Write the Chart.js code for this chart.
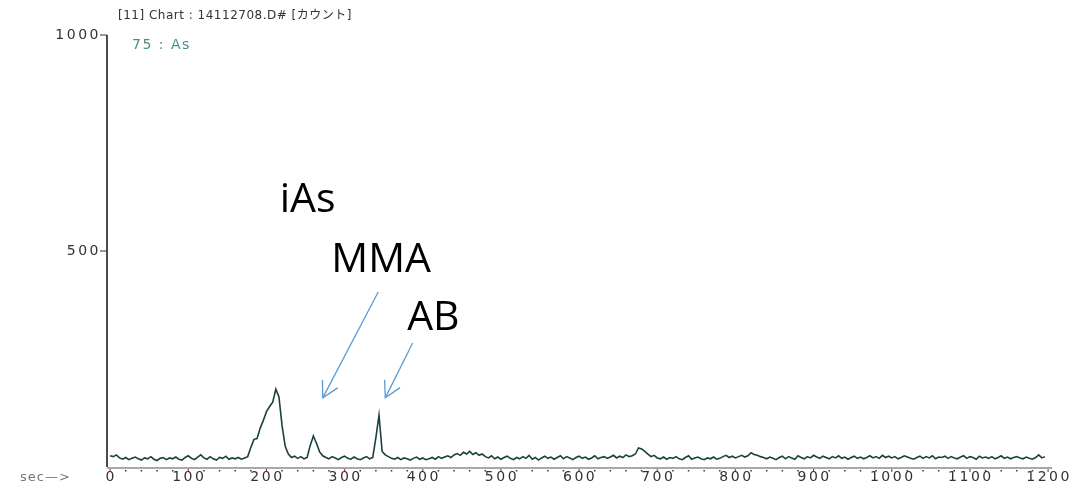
<!DOCTYPE html>
<html><head><meta charset="utf-8">
<script src="https://cdn.jsdelivr.net/npm/chart.js@4.4.0/dist/chart.umd.min.js"></script>
<style>html,body{margin:0;padding:0;background:#fff;}canvas{display:block}</style>
</head><body>
<canvas id="c" width="1074" height="486"></canvas>
<script>
// ---- data ----
const stepSec = 4; // sampling interval (s)
const counts = [
 26,24,28,21,18,22,17,20,23,19,
 16,21,19,24,18,15,20,22,17,21,
 19,23,18,16,22,26,20,17,23,28,
 21,18,24,19,16,22,20,25,18,21,
 19,22,18,21,24,45,64,66,90,108,
 128,140,150,180,162,95,48,30,22,25,
 20,24,19,22,50,72,55,35,26,22,
 19,24,21,17,22,25,20,18,23,19,
 17,21,24,19,22,68,120,36,28,24,
 20,18,22,17,21,19,16,20,23,18,
 21,17,19,22,18,24,20,23,26,22,
 28,31,27,34,30,36,29,33,27,30,
 24,21,26,19,23,18,22,25,20,17,
 22,19,24,20,27,18,22,16,21,25,
 20,23,18,22,26,19,24,21,17,22,
 25,20,23,18,21,26,19,22,24,20,
 23,27,21,25,22,28,24,26,30,44,
 42,36,30,24,27,21,19,23,18,22,
 20,24,19,17,22,26,18,21,23,19,
 17,21,19,23,18,20,24,27,22,25,
 21,24,27,23,26,33,29,27,24,22,
 19,23,20,17,22,25,19,24,21,18,
 26,22,19,24,21,27,23,20,25,22,
 19,24,21,26,20,23,18,22,25,20,
 23,19,22,26,21,24,20,27,22,25,
 21,24,19,22,26,23,20,18,22,25,
 20,24,21,26,19,23,22,25,20,24,
 21,19,23,26,20,24,22,18,25,21,
 23,20,24,19,22,26,20,23,19,22,
 24,21,19,23,20,18,22,28,21,24
];
const xTicks = [0,100,200,300,400,500,600,700,800,900,1000,1100,1200];
const yTicks = [500,1000];
const titleText = '[11] Chart : 14112708.D# [カウント]';
const traceName = '75 : As';
const peakNames = ['iAs','MMA','AB'];

const points = counts.map((v,i)=>({x:i*stepSec, y:v}));

const axesPlugin = {
  id:'axes',
  beforeDatasetsDraw(chart){
    const {ctx, chartArea:a, scales:{x,y}} = chart;
    ctx.save();
    // y axis
    ctx.strokeStyle='#111'; ctx.lineWidth=1.5;
    ctx.beginPath(); ctx.moveTo(a.left, a.top); ctx.lineTo(a.left, a.bottom); ctx.stroke();
    ctx.font='14px "DejaVu Sans"'; ctx.fillStyle='#333';
    ctx.letterSpacing='2.5px';
    ctx.textAlign='right'; ctx.textBaseline='middle';
    yTicks.forEach(v=>{
      const py=y.getPixelForValue(v);
      ctx.lineWidth=1; ctx.strokeStyle='#333';
      ctx.beginPath(); ctx.moveTo(a.left-7, py); ctx.lineTo(a.left, py); ctx.stroke();
      ctx.fillText(String(v), a.left-6, py);
    });
    // x axis
    ctx.strokeStyle='#a8a8a8'; ctx.lineWidth=2;
    ctx.beginPath(); ctx.moveTo(a.left, a.bottom+1); ctx.lineTo(a.right, a.bottom+1); ctx.stroke();
    for(let t=20;t<=1200;t+=20){
      if(t%100===0) continue;
      const px=x.getPixelForValue(t);
      ctx.fillStyle='#333'; ctx.fillRect(px-0.75, a.bottom+3, 1.5, 1.5);
    }
    ctx.textAlign='center'; ctx.textBaseline='top';
    xTicks.forEach(v=>{
      const px=x.getPixelForValue(v);
      ctx.strokeStyle='#c0392b'; ctx.lineWidth=1.2;
      ctx.beginPath(); ctx.moveTo(px, a.bottom+2); ctx.lineTo(px, a.bottom+5); ctx.stroke();
      ctx.fillStyle='#333';
      ctx.fillText(String(v), px+1, a.bottom+3);
    });
    ctx.fillStyle='#777'; ctx.textAlign='left'; ctx.letterSpacing='1px'; ctx.font='13px "DejaVu Sans"';
    ctx.fillText('sec\u2014>', 20, a.bottom+4);
    // titles
    ctx.letterSpacing='0.5px';
    ctx.font='12px "DejaVu Sans", "Noto Sans CJK JP"'; ctx.fillStyle='#333'; ctx.textBaseline='middle';
    ctx.fillText(titleText, 118, 16);
    ctx.fillStyle='#4d8c8c'; ctx.font='14px "DejaVu Sans"'; ctx.letterSpacing='1.5px';
    ctx.fillText(traceName, 132, 45);
    ctx.restore();
  },
  afterDatasetsDraw(chart){
    const {ctx, scales:{x,y}} = chart;
    ctx.save();
    ctx.font='41px "Open Sans"'; ctx.fillStyle='#000'; ctx.textAlign='left'; ctx.textBaseline='middle';
    const labelAt = [[217,618],[283,479],[380,345]];
    peakNames.forEach((n,i)=>ctx.fillText(n, x.getPixelForValue(labelAt[i][0]), y.getPixelForValue(labelAt[i][1])));
    const arrows = [[[343,405],[272,160]],[[387,287],[352,160]]];
    ctx.strokeStyle='#5b9bd5'; ctx.lineWidth=1.3;
    arrows.forEach(([tail,tip])=>{
      const x0=x.getPixelForValue(tail[0]), y0=y.getPixelForValue(tail[1]);
      const x1=x.getPixelForValue(tip[0]), y1=y.getPixelForValue(tip[1]);
      const ang=Math.atan2(y0-y1, x0-x1);
      ctx.beginPath(); ctx.moveTo(x0,y0); ctx.lineTo(x1,y1); ctx.stroke();
      const L=18, s=0.5;
      ctx.beginPath();
      ctx.moveTo(x1+L*Math.cos(ang+s), y1+L*Math.sin(ang+s));
      ctx.lineTo(x1,y1);
      ctx.lineTo(x1+L*Math.cos(ang-s), y1+L*Math.sin(ang-s));
      ctx.stroke();
    });
    ctx.restore();
  }
};

new Chart(document.getElementById('c'), {
  type:'line',
  data:{datasets:[{data:points, borderColor:'#1a4040', borderWidth:1.6, pointRadius:0, tension:0, fill:false}]},
  options:{
    responsive:false, animation:false, devicePixelRatio:1,
    layout:{padding:{left:107, top:35, right:22, bottom:19}},
    plugins:{legend:{display:false}, tooltip:{enabled:false}},
    scales:{
      x:{type:'linear', min:-4, max:1205, display:false},
      y:{type:'linear', min:0, max:1000, display:false}
    }
  },
  plugins:[axesPlugin]
});
</script>
</body></html>
